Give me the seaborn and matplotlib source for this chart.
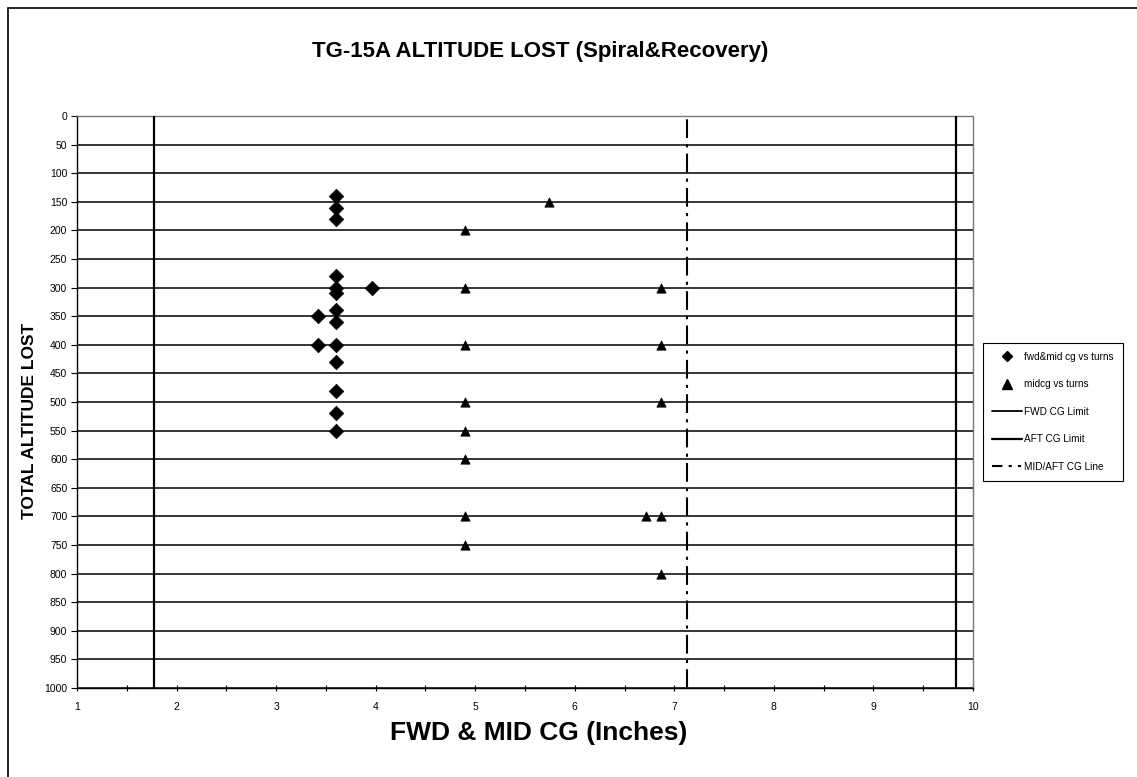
import matplotlib
matplotlib.use('Agg')
import matplotlib.pyplot as plt
from matplotlib.lines import Line2D
from matplotlib.patches import Rectangle
import seaborn as sns
import pandas as pd
import numpy as np

# data
fwd_x = [3.6, 3.6, 3.6, 3.6, 3.6, 3.6, 3.6, 3.6, 3.6, 3.6, 3.6, 3.6, 3.6, 3.42, 3.42, 3.96]
fwd_y = [140, 160, 180, 280, 300, 310, 340, 360, 400, 430, 480, 520, 550, 350, 400, 300]
mid_x = [4.9, 4.9, 4.9, 4.9, 4.9, 4.9, 4.9, 4.9, 5.74, 6.87, 6.87, 6.87, 6.87, 6.87, 6.72]
mid_y = [200, 300, 400, 500, 550, 600, 700, 750, 150, 300, 400, 500, 700, 800, 700]
fwd_limit = 1.77
aft_limit = 9.83
mid_aft_line = 7.13
y_ticks = list(range(0, 1001, 50))
x_ticks = list(range(1, 11))

sns.set_style('white')
plt.rcParams['font.family'] = ['Liberation Sans', 'DejaVu Sans']
plt.rcParams['text.color'] = 'black'
plt.rcParams['xtick.color'] = 'black'
plt.rcParams['ytick.color'] = 'black'
plt.rcParams['axes.labelcolor'] = 'black'

fig = plt.figure(figsize=(11.37, 7.77), dpi=100)
ax = fig.add_axes([77 / 1137, 1 - 688 / 777, (973 - 77) / 1137, (688 - 116) / 777])

# horizontal grid
ax.set_yticks(y_ticks)
ax.yaxis.grid(True, color='black', linewidth=1.1)
ax.xaxis.grid(False)
ax.set_axisbelow(True)

fwd_df = pd.DataFrame({'cg': fwd_x, 'alt': fwd_y})
mid_df = pd.DataFrame({'cg': mid_x, 'alt': mid_y})
sns.scatterplot(data=fwd_df, x='cg', y='alt', marker='D', s=55, color='black',
                edgecolor='black', linewidth=0.5, ax=ax, zorder=4)
sns.scatterplot(data=mid_df, x='cg', y='alt', marker='^', s=45, color='black',
                edgecolor='black', linewidth=0.5, ax=ax, zorder=4)

ax.axvline(fwd_limit, color='black', linewidth=1.6, zorder=3)
ax.axvline(aft_limit, color='black', linewidth=1.6, zorder=3)
ax.axvline(mid_aft_line, color='black', linewidth=1.5, dashes=(9, 3, 1.5, 3), zorder=3)

ax.set_xlim(1, 10)
ax.set_ylim(1000, 0)
ax.set_xticks(x_ticks)
ax.set_xticks(np.arange(1.5, 10, 1.0), minor=True)
ax.tick_params(axis='x', which='both', direction='inout', length=4, width=0.8,
               labelsize=7.5, pad=8, bottom=True)
ax.tick_params(axis='y', which='major', direction='out', length=4, width=0.8,
               labelsize=7.5, pad=3, left=True)

for side in ['left', 'bottom']:
    ax.spines[side].set_color('black')
    ax.spines[side].set_linewidth(1.0)
for side in ['top', 'right']:
    ax.spines[side].set_color('#777777')
    ax.spines[side].set_linewidth(1.0)
    ax.spines[side].set_linestyle((0, (1, 1)))

ax.set_xlabel('')
ax.set_ylabel('')
fig.text(539 / 1137, 1 - 733 / 777, 'FWD & MID CG (Inches)', ha='center', va='center',
         fontsize=19, fontweight='bold')
fig.text(30 / 1137, 1 - 421 / 777, 'TOTAL ALTITUDE LOST', ha='center', va='center',
         rotation=90, fontsize=12.5, fontweight='bold')
fig.text(540 / 1137, 1 - 52 / 777, 'TG-15A ALTITUDE LOST (Spiral&Recovery)',
         ha='center', va='center', fontsize=16, fontweight='bold')

handles = [
    Line2D([], [], marker='D', color='black', linestyle='none', markersize=5.5),
    Line2D([], [], marker='^', color='black', linestyle='none', markersize=6.5),
    Line2D([], [], color='black', linewidth=1.3),
    Line2D([], [], color='black', linewidth=1.6),
    Line2D([], [], color='black', linewidth=1.5, dashes=(5, 3, 1.5, 3, 1.5, 3)),
]
labels = ['fwd&mid cg vs turns', 'midcg vs turns', 'FWD CG Limit', 'AFT CG Limit', 'MID/AFT CG Line']
leg = fig.legend(handles, labels, loc='upper left',
                 bbox_to_anchor=(983 / 1137, 1 - 343 / 777), fontsize=7.2,
                 frameon=True, fancybox=False, edgecolor='black', framealpha=1,
                 handlelength=3.0, labelspacing=1.75, handletextpad=0.2, borderpad=0.9,
                 borderaxespad=0)
leg.get_frame().set_linewidth(0.8)

# outer chart border
fig.patches.append(Rectangle((8 / 1137, -0.05), 1.2, 1 - 8 / 777 + 0.05,
                             transform=fig.transFigure, fill=False,
                             edgecolor='black', linewidth=1.2))

fig.savefig('out.png', dpi=100)
